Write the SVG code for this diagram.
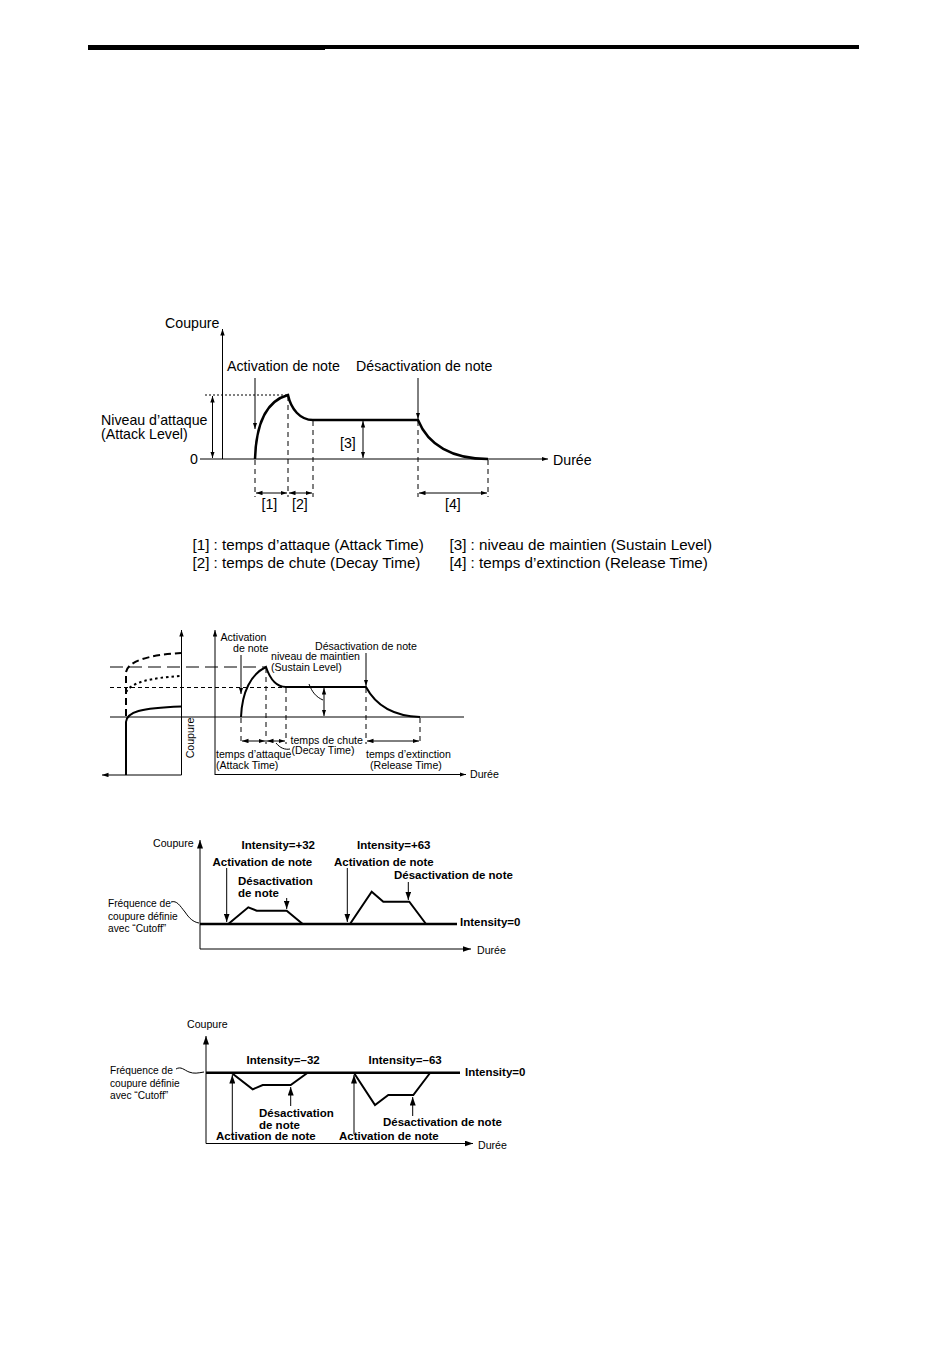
<svg xmlns="http://www.w3.org/2000/svg" width="950" height="1370" viewBox="0 0 950 1370">
<defs>
<marker id="s" markerUnits="userSpaceOnUse" markerWidth="7" markerHeight="5" refX="6.5" refY="2.2" orient="auto-start-reverse"><path d="M0,0 L6.5,2.2 L0,4.4 z" fill="#000"/></marker>
<marker id="m" markerUnits="userSpaceOnUse" markerWidth="9" markerHeight="6" refX="8.5" refY="3" orient="auto-start-reverse"><path d="M0,0 L8.5,3 L0,6 z" fill="#000"/></marker>
</defs>
<style>
text{font-family:"Liberation Sans",Arial,Helvetica,sans-serif;fill:#000}
.t14{font-size:14.2px}
.lg{font-size:15.2px}
.s{font-size:10.6px}
.sm{font-size:10.2px}
.ax2{font-size:10.6px}
.b{font-size:11.5px;font-weight:bold}
.ax{stroke:#000;stroke-width:1;fill:none}
.cv{stroke:#000;stroke-width:2.5;fill:none}
.cv2{stroke:#000;stroke-width:2;fill:none}
.ds{stroke:#000;stroke-width:1;stroke-dasharray:5 4;fill:none}
.dt{stroke:#000;stroke-width:1;stroke-dasharray:2 2;fill:none}
</style>

<g id="topbar">
<rect x="88" y="45" width="771" height="4" fill="#000"/>
<rect x="88" y="48" width="237" height="2" fill="#000"/>
</g>

<!-- Diagram 1 -->
<g id="d1-axes">
<text class="t14" x="165" y="328">Coupure</text>
<text class="t14" x="190" y="463.5">0</text>
<text class="t14" x="553" y="465">Durée</text>
</g>
<g id="d1-labels">
<text class="t14" x="101" y="425">Niveau d’attaque</text>
<text class="t14" x="101" y="438.5">(Attack Level)</text>
<text class="t14" x="227" y="371">Activation de note</text>
<text class="t14" x="356" y="371">Désactivation de note</text>
<text class="t14" x="340" y="448">[3]</text>
<text class="t14" x="261.5" y="509">[1]</text>
<text class="t14" x="292" y="509">[2]</text>
<text class="t14" x="445" y="509">[4]</text>
</g>
<g id="d1-connectors">
<line class="ax" x1="222.5" y1="459" x2="222.5" y2="329" marker-end="url(#s)"/>
<line class="ax" x1="200" y1="459" x2="548" y2="459" marker-end="url(#s)"/>
<line class="dt" x1="205" y1="395" x2="288" y2="395"/>
<line class="ax" x1="212.5" y1="396" x2="212.5" y2="458" marker-start="url(#s)" marker-end="url(#s)"/>
<line class="ax" x1="255" y1="378" x2="255" y2="429" marker-end="url(#s)"/>
<line class="ax" x1="418" y1="378" x2="418" y2="419" marker-end="url(#s)"/>
<line class="ax" x1="363" y1="421" x2="363" y2="458" marker-start="url(#s)" marker-end="url(#s)"/>
<path class="cv" d="M255,459 C256,425 266,401 288,395 C291,409 300,420 313,420 L418,420 C428,445 452,459 488,459"/>
<line class="ds" x1="255" y1="460" x2="255" y2="497"/>
<line class="ds" x1="288" y1="396" x2="288" y2="497"/>
<line class="ds" x1="313" y1="421" x2="313" y2="497"/>
<line class="ds" x1="418" y1="421" x2="418" y2="497"/>
<line class="ds" x1="488" y1="460" x2="488" y2="497"/>
<line class="ax" x1="256" y1="493" x2="287" y2="493" marker-start="url(#s)" marker-end="url(#s)"/>
<line class="ax" x1="289" y1="493" x2="312" y2="493" marker-start="url(#s)" marker-end="url(#s)"/>
<line class="ax" x1="419" y1="493" x2="487" y2="493" marker-start="url(#s)" marker-end="url(#s)"/>
</g>

<g id="legend">
<text class="lg" x="192.5" y="550">[1] : temps d’attaque (Attack Time)</text>
<text class="lg" x="192.5" y="567.5">[2] : temps de chute (Decay Time)</text>
<text class="lg" x="449.5" y="550">[3] : niveau de maintien (Sustain Level)</text>
<text class="lg" x="449.5" y="567.5">[4] : temps d’extinction (Release Time)</text>
</g>

<!-- Diagram 2 -->
<g id="d2-left">
<line class="ax" x1="181.5" y1="775" x2="181.5" y2="630" marker-end="url(#s)"/>
<line class="ax" x1="181.5" y1="775" x2="102" y2="775" marker-end="url(#s)"/>
<path class="cv2" d="M126,775 L126,722 C127,712 140,708 181,706.5"/>
<path class="cv2" stroke-dasharray="7 4" d="M126,716 L126,672 C128,662 146,655 181,653"/>
<path class="cv2" stroke-dasharray="2.5 3" d="M126,692 C132,682 150,678 181,676"/>
<text class="s" transform="translate(194,738) rotate(-90)" text-anchor="middle">Coupure</text>
</g>
<g id="d2-right">
<text class="s" x="220.5" y="640.5">Activation</text>
<text class="s" x="233" y="651.5">de note</text>
<text class="s" x="315" y="649.5">Désactivation de note</text>
<text class="s" x="271" y="660">niveau de maintien</text>
<text class="s" x="271" y="670.5">(Sustain Level)</text>
<text class="s" x="290.5" y="744">temps de chute</text>
<text class="s" x="291.5" y="754">(Decay Time)</text>
<text class="s" x="216" y="757.5">temps d’attaque</text>
<text class="s" x="216" y="769">(Attack Time)</text>
<text class="s" x="366" y="757.5">temps d’extinction</text>
<text class="s" x="370" y="769">(Release Time)</text>
<text class="s" x="470" y="778">Durée</text>
</g>
<g id="d2-connectors">
<line class="ax" x1="110" y1="667" x2="266" y2="667" stroke-dasharray="13 6"/>
<line class="ax" x1="110" y1="687.5" x2="286" y2="687.5" stroke-dasharray="4 3"/>
<line class="ax" x1="110" y1="717" x2="464" y2="717"/>
<line class="ax" x1="215" y1="775" x2="215" y2="630" marker-end="url(#s)"/>
<line class="ax" x1="215" y1="774.5" x2="466" y2="774.5" marker-end="url(#s)"/>
<path class="cv2" d="M241,717 C242,692 251,674 266,667 C270,679 276,687 286,687 L366,687 C375,704 392,716 420,717"/>
<line class="ax" x1="241" y1="655" x2="241" y2="694" marker-end="url(#s)"/>
<line class="ax" x1="366" y1="653" x2="366" y2="686" marker-end="url(#s)"/>
<line class="ax" x1="324" y1="688" x2="324" y2="716" marker-start="url(#s)" marker-end="url(#s)"/>
<path class="ax" d="M309,684 C312,692 316,697 323,700"/>
<line class="ds" x1="241" y1="718" x2="241" y2="744" stroke-dasharray="4 3"/>
<line class="ds" x1="266" y1="668" x2="266" y2="744" stroke-dasharray="4 3"/>
<line class="ds" x1="286" y1="688" x2="286" y2="744" stroke-dasharray="4 3"/>
<line class="ds" x1="366" y1="688" x2="366" y2="744" stroke-dasharray="4 3"/>
<line class="ds" x1="420" y1="718" x2="420" y2="743" stroke-width="2" stroke-dasharray="4 3"/>
<line class="ax" x1="242" y1="741" x2="265" y2="741" marker-start="url(#s)" marker-end="url(#s)"/>
<line class="ax" x1="267" y1="741" x2="285" y2="741" marker-start="url(#s)" marker-end="url(#s)"/>
<line class="ax" x1="367" y1="741" x2="419" y2="741" marker-start="url(#s)" marker-end="url(#s)"/>
<path class="ax" d="M276,743 C280,748 285,750 290,749"/>
</g>

<!-- Diagram 3 -->
<g id="d3-labels">
<text class="ax2" x="153" y="847">Coupure</text>
<text class="ax2" x="477" y="954">Durée</text>
<text class="sm" x="108" y="907">Fréquence de</text>
<text class="sm" x="108" y="919.5">coupure définie</text>
<text class="sm" x="108" y="932">avec “Cutoff”</text>
<text class="b" x="241.5" y="849">Intensity=+32</text>
<text class="b" x="212.5" y="866">Activation de note</text>
<text class="b" x="238" y="885">Désactivation</text>
<text class="b" x="238" y="896.5">de note</text>
<text class="b" x="357" y="849">Intensity=+63</text>
<text class="b" x="334" y="866">Activation de note</text>
<text class="b" x="394" y="879">Désactivation de note</text>
<text class="b" x="460" y="925.5">Intensity=0</text>
</g>
<g id="d3-connectors">
<line class="ax" x1="200" y1="949" x2="200" y2="840" marker-end="url(#m)"/>
<line class="ax" x1="200" y1="949" x2="471" y2="949" marker-end="url(#m)"/>
<line class="cv" x1="200" y1="924" x2="457" y2="924"/>
<polyline class="cv2" points="228.3,924 248.3,907.3 256.7,910.7 286.7,910.7 302.7,924"/>
<polyline class="cv2" points="350,924 371.7,891.7 383.3,901.7 409.3,901.7 426,924"/>
<line class="ax" x1="226.7" y1="868" x2="226.7" y2="922" marker-end="url(#m)"/>
<line class="ax" x1="286.7" y1="898" x2="286.7" y2="909" marker-end="url(#m)"/>
<line class="ax" x1="347.3" y1="868" x2="347.3" y2="922" marker-end="url(#m)"/>
<line class="ax" x1="408.3" y1="882" x2="408.3" y2="900" marker-end="url(#m)"/>
<path class="ax" d="M171,902 C177,900 180,906 185,912 C189,918 193,922 199,923"/>
</g>

<!-- Diagram 4 -->
<g id="d4-labels">
<text class="ax2" x="187" y="1028">Coupure</text>
<text class="ax2" x="478" y="1149">Durée</text>
<text class="sm" x="110" y="1074">Fréquence de</text>
<text class="sm" x="110" y="1086.5">coupure définie</text>
<text class="sm" x="110" y="1099">avec “Cutoff”</text>
<text class="b" x="246.5" y="1064">Intensity=–32</text>
<text class="b" x="368.5" y="1064">Intensity=–63</text>
<text class="b" x="465" y="1076">Intensity=0</text>
<text class="b" x="259" y="1117">Désactivation</text>
<text class="b" x="259" y="1129">de note</text>
<text class="b" x="216" y="1140">Activation de note</text>
<text class="b" x="383" y="1125.5">Désactivation de note</text>
<text class="b" x="339" y="1140">Activation de note</text>
</g>
<g id="d4-connectors">
<line class="ax" x1="206" y1="1143.5" x2="206" y2="1036" marker-end="url(#m)"/>
<line class="ax" x1="206" y1="1143.5" x2="473" y2="1143.5" marker-end="url(#m)"/>
<line class="cv" x1="206" y1="1072.7" x2="460" y2="1072.7"/>
<polyline class="cv2" points="231.7,1073 252.7,1089.3 262.7,1085 290.7,1085 307.3,1073"/>
<polyline class="cv2" points="354,1073 375,1105 388.3,1095 413.3,1095 430,1073"/>
<line class="ax" x1="232.3" y1="1134" x2="232.3" y2="1075" marker-end="url(#m)"/>
<line class="ax" x1="290.7" y1="1106" x2="290.7" y2="1087" marker-end="url(#m)"/>
<line class="ax" x1="354" y1="1134" x2="354" y2="1075" marker-end="url(#m)"/>
<line class="ax" x1="412.7" y1="1116" x2="412.7" y2="1097" marker-end="url(#m)"/>
<path class="ax" d="M176,1069 C181,1066 184,1070 189,1072 C194,1074 198,1073 204,1072"/>
</g>
</svg>
